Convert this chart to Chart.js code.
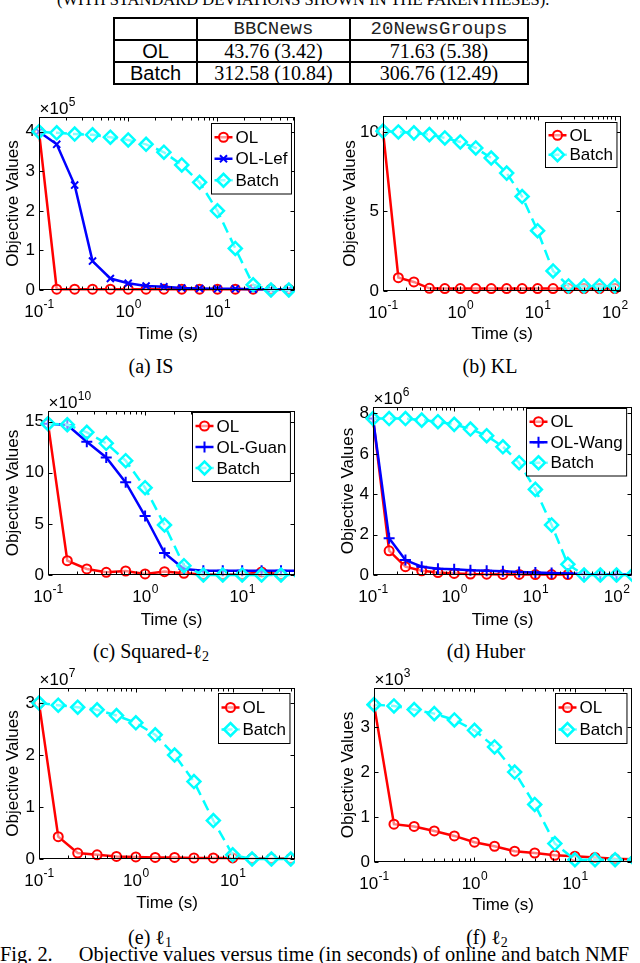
<!DOCTYPE html>
<html>
<head>
<meta charset="utf-8">
<script src="https://cdn.jsdelivr.net/npm/chart.js@4.4.1/dist/chart.umd.min.js"></script>
<style>
  body { margin: 0; width: 640px; height: 963px; position: relative; overflow: hidden; background: #fff; font-family: "Liberation Serif", serif; }
  canvas { position: absolute; }
  .head { position: absolute; left: 57px; top: -8px; font-size: 16.5px; line-height: 16.5px; white-space: nowrap; }
  #tbl { position: absolute; left: 113px; top: 17px; border-collapse: collapse; table-layout: fixed; width: 414px; }
  #tbl td { border: 2px solid #000; padding: 0; height: 20px; line-height: 20px; text-align: center; font-size: 20px; white-space: nowrap; }
  #tbl .mono { font-family: "Liberation Mono", monospace; font-size: 19px; color: #222; }
  #tbl .sans { font-family: "Liberation Sans", sans-serif; }
  .cap { position: absolute; font-size: 20px; line-height: 20px; transform: translateX(-50%); white-space: nowrap; }
  .cap i { font-style: normal; }
  .cap sub { font-size: 14px; vertical-align: -3px; }
  .fig { position: absolute; left: 0; top: 944px; font-size: 20.4px; line-height: 20px; white-space: nowrap; }
</style>
</head>
<body>
<div class="head">(WITH STANDARD DEVIATIONS SHOWN IN THE PARENTHESES).</div>
<table id="tbl">
  <colgroup><col style="width:83px"><col style="width:153px"><col style="width:178px"></colgroup>
  <tr><td></td><td class="mono">BBCNews</td><td class="mono">20NewsGroups</td></tr>
  <tr><td class="sans">OL</td><td>43.76 (3.42)</td><td>71.63 (5.38)</td></tr>
  <tr><td class="sans">Batch</td><td>312.58 (10.84)</td><td>306.76 (12.49)</td></tr>
</table>

<div class="cap" style="left:151px;top:356px">(a) IS</div>
<div class="cap" style="left:490px;top:356px">(b) KL</div>
<div class="cap" style="left:151px;top:641px">(c) Squared-<i>ℓ</i><sub>2</sub></div>
<div class="cap" style="left:486px;top:641px">(d) Huber</div>
<div class="cap" style="left:150px;top:927px">(e) <i>ℓ</i><sub>1</sub></div>
<div class="cap" style="left:487px;top:927px">(f) <i>ℓ</i><sub>2</sub></div>
<div class="fig">Fig. 2.<span style="margin-left:26px">Objective values versus time (in seconds) of online and batch NMF</span></div>

<script>
// time stamps (s) of the recorded iterations
const times = [0.1, 0.158, 0.251, 0.398, 0.631, 1, 1.585, 2.512, 3.981, 6.31, 10, 15.85, 25.12, 39.81, 63.1, 100, 158.5];

// (a) IS, x1e5
const isOL    = [4.0, 0.02, 0.02, 0.02, 0.02, 0.02, 0.02, 0.02, 0.02, 0.02, 0.02, 0.02, 0.02, 0.02, 0.02];
const isLef   = [4.0, 3.68, 2.65, 0.73, 0.29, 0.17, 0.10, 0.08, 0.05, 0.04, 0.03, 0.03, 0.02, 0.02, 0.02, 0.02];
const isBatch = [4.0, 3.97, 3.94, 3.92, 3.86, 3.79, 3.68, 3.48, 3.16, 2.72, 2.0, 1.05, 0.13, 0.0, 0.0, 0.0];

// (b) KL
const klOL    = [10.05, 0.84, 0.57, 0.17, 0.15, 0.15, 0.15, 0.15, 0.15, 0.15, 0.15, 0.15, 0.15, 0.15, 0.15, 0.15];
const klBatch = [10.05, 10.0, 9.94, 9.83, 9.62, 9.37, 8.99, 8.36, 7.41, 5.94, 3.79, 1.26, 0.32, 0.32, 0.32, 0.32];

// (c) Squared-l2, x1e10
const sqOL    = [14.8, 1.40, 0.59, 0.26, 0.39, 0.10, 0.33, 0.16, 0.05, 0.05, 0.05, 0.3, 0.05];
const sqGuan  = [14.8, 14.67, 13.04, 11.5, 9.06, 5.77, 2.15, 0.59, 0.42, 0.42, 0.42, 0.42, 0.42, 0.42];
const sqBatch = [14.8, 14.7, 13.95, 12.88, 11.18, 8.54, 4.89, 0.91, 0.0, 0.0, 0.0, 0.0, 0.0, 0.0];

// (d) Huber, x1e6
const hbOL    = [7.75, 1.2, 0.41, 0.21, 0.12, 0.08, 0.05, 0.04, 0.03, 0.03, 0.02, 0.02, 0.02];
const hbWang  = [7.75, 1.82, 0.74, 0.41, 0.31, 0.28, 0.23, 0.21, 0.18, 0.15, 0.12, 0.10, 0.08, 0.05, 0.03, 0.03, 0.03];
const hbBatch = [7.75, 7.75, 7.75, 7.67, 7.59, 7.46, 7.23, 6.9, 6.35, 5.56, 4.24, 2.48, 0.53, 0.0, 0.0, 0.0, 0.0];

// (e) l1, x1e7
const l1OL    = [3.0, 0.43, 0.115, 0.08, 0.05, 0.04, 0.03, 0.03, 0.02, 0.02, 0.02, 0.01, 0.01, 0.01];
const l1Batch = [3.0, 2.96, 2.92, 2.87, 2.76, 2.62, 2.39, 2.0, 1.49, 0.74, 0.08, 0.0, 0.0, 0.0];

// (f) l2, x1e3
const l2OL    = [3.5, 0.84, 0.79, 0.69, 0.58, 0.44, 0.35, 0.24, 0.2, 0.15, 0.13, 0.1, 0.07, 0.06];
const l2Batch = [3.5, 3.47, 3.39, 3.3, 3.16, 2.93, 2.56, 2.0, 1.28, 0.41, 0.05, 0.05, 0.05, 0.05];

// tick values
const xTicks3 = [0.1, 1, 10];
const xTicks4 = [0.1, 1, 10, 100];
const yTicksA = [0, 1, 2, 3, 4];
const yTicksB = [0, 5, 10];
const yTicksC = [0, 5, 10, 15];
const yTicksD = [0, 2, 4, 6, 8];
const yTicksE = [0, 1, 2, 3];
const yTicksF = [0, 1, 2, 3];

const FONT = '"Liberation Sans", Arial, sans-serif';
Chart.defaults.font.family = FONT;
Chart.defaults.color = '#000';

const styles = {
  ol:    { borderColor: '#ff0000', borderWidth: 2.5, pointStyle: 'circle', pointRadius: 4.5, pointBorderWidth: 2, order: 2 },
  lef:   { borderColor: '#0000ff', borderWidth: 2.5, pointStyle: 'crossRot', pointRadius: 5, pointBorderWidth: 2, order: 1 },
  plus:  { borderColor: '#0000ff', borderWidth: 2.5, pointStyle: 'cross', pointRadius: 5.5, pointBorderWidth: 2, order: 1 },
  batch: { borderColor: '#00ffff', borderWidth: 2.5, borderDash: [11, 6], pointStyle: 'rectRot', pointRadius: 6.5, pointBorderWidth: 2.5, order: 0 }
};

function pts(vals) {
  return vals.map((v, i) => ({ x: times[i], y: v }));
}

// MATLAB-like box, inward ticks, superscript tick labels, inset legend
const matAxes = {
  id: 'mat',
  afterDraw(chart, args, o) {
    const { ctx, chartArea: a } = chart;
    const xs = chart.scales.x, ys = chart.scales.y;
    const L = Math.round(a.left) + 0.5, R = Math.round(a.right) - 0.5;
    const T = Math.round(a.top) + 0.5, B = Math.round(a.bottom) - 0.5;
    ctx.save();
    ctx.setLineDash([]);
    ctx.strokeStyle = '#000';
    ctx.lineWidth = 1;
    ctx.strokeRect(L, T, R - L, B - T);
    ctx.beginPath();
    xs.ticks.forEach(t => {
      const px = Math.round(xs.getPixelForValue(t.value)) + 0.5;
      ctx.moveTo(px, B); ctx.lineTo(px, B - 4);
      ctx.moveTo(px, T); ctx.lineTo(px, T + 4);
      for (let m = 2; m < 10; m++) {
        const v = t.value * m;
        if (v >= xs.max) break;
        const q = Math.round(xs.getPixelForValue(v)) + 0.5;
        ctx.moveTo(q, B); ctx.lineTo(q, B - 3);
        ctx.moveTo(q, T); ctx.lineTo(q, T + 3);
      }
    });
    ys.ticks.forEach(t => {
      const py = Math.round(ys.getPixelForValue(t.value)) + 0.5;
      ctx.moveTo(L, py); ctx.lineTo(L + 4, py);
      ctx.moveTo(R, py); ctx.lineTo(R - 4, py);
    });
    ctx.stroke();

    // x tick labels 10^n
    ctx.fillStyle = '#000';
    ctx.textAlign = 'left';
    ctx.textBaseline = 'alphabetic';
    const base = B + 27;
    xs.ticks.forEach(t => {
      const e = String(Math.round(Math.log10(t.value)));
      ctx.font = '17px ' + FONT;
      const w1 = ctx.measureText('10').width;
      ctx.font = '12px ' + FONT;
      const w2 = ctx.measureText(e).width;
      const x0 = xs.getPixelForValue(t.value) - (w1 + w2) / 2;
      ctx.font = '17px ' + FONT;
      ctx.fillText('10', x0, base);
      ctx.font = '12px ' + FONT;
      ctx.fillText(e, x0 + w1 + 0.5, base - 9);
    });

    // axis multiplier
    if (o.exp) {
      ctx.font = '17px ' + FONT;
      const w = ctx.measureText('\u00d710').width;
      ctx.fillText('\u00d710', L, T - 4);
      ctx.font = '12px ' + FONT;
      ctx.fillText(o.exp, L + w + 0.5, T - 12);
    }

    // legend
    const lg = o.legend;
    ctx.font = '17px ' + FONT;
    const ds = chart.data.datasets;
    const tw = Math.max(...ds.map(d => ctx.measureText(d.label).width));
    const w = 24 + tw + 4, h = ds.length * lg.lh + 6;
    const bx = Math.round(R - lg.right - w) + 0.5, by = Math.round(T + lg.top) + 0.5;
    ctx.fillStyle = '#fff';
    ctx.fillRect(bx, by, w, h);
    ctx.strokeStyle = '#000';
    ctx.lineWidth = 1;
    ctx.strokeRect(bx, by, w, h);
    ds.forEach((d, i) => {
      const cy = by + 3 + lg.lh * (i + 0.5);
      ctx.strokeStyle = d.borderColor;
      ctx.lineWidth = d.borderWidth;
      ctx.setLineDash(d.borderDash || []);
      ctx.beginPath();
      ctx.moveTo(bx + 3, cy); ctx.lineTo(bx + 21, cy);
      ctx.stroke();
      ctx.setLineDash([]);
      ctx.lineWidth = d.pointBorderWidth;
      ctx.fillStyle = 'rgba(255,255,255,0.6)';
      Chart.helpers.drawPoint(ctx, { pointStyle: d.pointStyle, radius: d.pointRadius, borderWidth: d.pointBorderWidth, rotation: 0 }, bx + 12, cy);
      ctx.fillStyle = '#000';
      ctx.textBaseline = 'middle';
      ctx.fillText(d.label, bx + 24, cy + 1);
    });
    ctx.restore();
  }
};

function buildChart(c) {
  const left = Math.round(c.titleX - 8.5);
  const top = c.box[1] - 32;
  const bottom = Math.round(c.timeY + 8.5);
  const right = c.box[2] + 2;
  const yW = c.box[0] - left;
  const xH = bottom - c.box[3];
  const cv = document.createElement('canvas');
  cv.width = right - left;
  cv.height = bottom - top;
  cv.style.left = left + 'px';
  cv.style.top = top + 'px';
  document.body.appendChild(cv);

  new Chart(cv, {
    type: 'line',
    data: {
      datasets: c.series.map(s => Object.assign({
        label: s.label,
        data: pts(s.values),
        fill: false,
        tension: 0,
        pointBackgroundColor: 'rgba(255,255,255,0.5)',
        pointBorderColor: styles[s.kind].borderColor,
        clip: { left: 8, top: 8, right: 0, bottom: 8 }
      }, styles[s.kind]))
    },
    options: {
      responsive: false,
      animation: false,
      events: [],
      layout: { padding: { top: 32, right: 2, left: 0, bottom: 0 } },
      plugins: {
        legend: { display: false },
        tooltip: { enabled: false },
        mat: { exp: c.exp, legend: c.legend }
      },
      scales: {
        x: {
          type: 'logarithmic',
          min: 0.1,
          max: c.xMax,
          afterBuildTicks: s => { s.ticks = c.xTicks.map(v => ({ value: v })); },
          afterFit: s => { s.height = xH; },
          ticks: { display: false },
          grid: { display: false, drawTicks: false },
          border: { display: false },
          title: { display: true, text: 'Time (s)', font: { size: 17, lineHeight: 1 }, padding: 0, color: '#000' }
        },
        y: {
          type: 'linear',
          min: 0,
          max: c.yMax,
          afterBuildTicks: s => { s.ticks = c.yTicks.map(v => ({ value: v })); },
          afterFit: s => { s.width = yW; },
          ticks: { font: { size: 17 }, padding: 4, color: '#000' },
          grid: { display: false, drawTicks: false },
          border: { display: false },
          title: { display: true, text: 'Objective Values', font: { size: 17, lineHeight: 1 }, padding: 0, color: '#000' }
        }
      }
    },
    plugins: [matAxes]
  });
}

buildChart({ box: [39, 117, 302, 290], titleX: 13, timeY: 334, xMax: 74, yMax: 4.37, xTicks: xTicks3, yTicks: yTicksA, exp: '5',
  legend: { right: 4, top: 5, lh: 21.5 },
  series: [{ label: 'OL', kind: 'ol', values: isOL }, { label: 'OL-Lef', kind: 'lef', values: isLef }, { label: 'Batch', kind: 'batch', values: isBatch }] });

buildChart({ box: [383, 116, 628, 291], titleX: 350, timeY: 334, xMax: 120, yMax: 11, xTicks: xTicks4, yTicks: yTicksB, exp: '',
  legend: { right: 4, top: 5, lh: 19.5 },
  series: [{ label: 'OL', kind: 'ol', values: klOL }, { label: 'Batch', kind: 'batch', values: klBatch }] });

buildChart({ box: [48, 411, 302, 575], titleX: 13, timeY: 620, xMax: 35, yMax: 16.04, xTicks: xTicks3, yTicks: yTicksC, exp: '10',
  legend: { right: 5, top: 0, lh: 21 },
  series: [{ label: 'OL', kind: 'ol', values: sqOL }, { label: 'OL-Guan', kind: 'plus', values: sqGuan }, { label: 'Batch', kind: 'batch', values: sqBatch }] });

buildChart({ box: [373, 407, 639, 575], titleX: 348, timeY: 620, xMax: 155, yMax: 8.32, xTicks: xTicks4, yTicks: yTicksD, exp: '6',
  legend: { right: 5, top: 0, lh: 20.5 },
  series: [{ label: 'OL', kind: 'ol', values: hbOL }, { label: 'OL-Wang', kind: 'plus', values: hbWang }, { label: 'Batch', kind: 'batch', values: hbBatch }] });

buildChart({ box: [39, 688, 302, 859], titleX: 13, timeY: 903, xMax: 44, yMax: 3.29, xTicks: xTicks3, yTicks: yTicksE, exp: '7',
  legend: { right: 5, top: 4, lh: 22 },
  series: [{ label: 'OL', kind: 'ol', values: l1OL }, { label: 'Batch', kind: 'batch', values: l1Batch }] });

buildChart({ box: [374, 688, 639, 862], titleX: 348, timeY: 905, xMax: 37, yMax: 3.87, xTicks: xTicks3, yTicks: yTicksF, exp: '3',
  legend: { right: 5, top: 4, lh: 22 },
  series: [{ label: 'OL', kind: 'ol', values: l2OL }, { label: 'Batch', kind: 'batch', values: l2Batch }] });
</script>
</body>
</html>
